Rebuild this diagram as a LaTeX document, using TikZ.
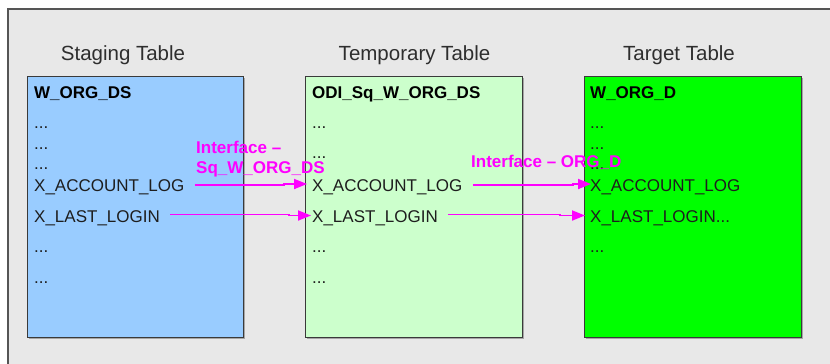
\documentclass[tikz,border=0pt]{standalone}
\usepackage{fontspec}
\setmainfont{Liberation Sans}
\usetikzlibrary{arrows.meta,calc}
\definecolor{bgcol}{HTML}{E8E8E8}
\definecolor{framecol}{HTML}{555555}
\definecolor{stagecol}{HTML}{99CCFF}
\definecolor{tempcol}{HTML}{CCFFCC}
\definecolor{targcol}{HTML}{00FF00}
\definecolor{boxline}{HTML}{3A3A3A}
\definecolor{txtcol}{HTML}{1E1E1E}
\definecolor{titcol}{HTML}{2E2E2E}
\definecolor{ifcol}{HTML}{FF00FF}
\tikzset{
  tbl/.style={draw=boxline, line width=1pt, rectangle, anchor=north west,
    minimum width=216pt, minimum height=261pt, inner sep=0pt},
  shad/.style={fill=black!35, draw=none},
  ttl/.style={anchor=base, text=titcol, font=\fontsize{20.5}{24}\selectfont, inner sep=0pt},
  hdr/.style={anchor=base west, text=black, font=\fontsize{17}{20}\selectfont\bfseries, inner sep=0pt},
  fld/.style={anchor=base west, text=txtcol, font=\fontsize{17}{20}\selectfont, inner sep=0pt},
  ifl/.style={anchor=base west, text=ifcol, font=\fontsize{17}{20}\selectfont\bfseries, inner sep=0pt},
  arr/.style={draw=ifcol, line width=1.8pt, -{Triangle[length=13pt,width=10pt]}},
}
\begin{document}
\begin{tikzpicture}[x=1pt,y=-1pt]
\useasboundingbox (0,0) rectangle (830,364);
% outer frame
\fill[white] (0,0) rectangle (830,364);
\fill[black!25] (9,10) rectangle (840,380);
\filldraw[fill=bgcol, draw=framecol, line width=1.3pt] (8,9) rectangle (845,385);
% box shadows
\fill[shad] (28.5,77.5) rectangle (245,339);
\fill[shad] (306.5,77.5) rectangle (524,339);
\fill[shad] (585.5,77.5) rectangle (803,339);
% tables
\node[tbl, fill=stagecol] (stg) at (27,76) {};
\node[tbl, fill=tempcol, minimum width=217pt] (tmp) at (305,76) {};
\node[tbl, fill=targcol, minimum width=217pt] (tgt) at (584,76) {};
% titles
\node[ttl] (tstg) at (123,60) {Staging Table};
\node[ttl] (ttmp) at (414.5,60) {Temporary Table};
\node[ttl] (ttgt) at (679,60) {Target Table};
% staging fields
\node[hdr] (sh) at (34,98) {W\_ORG\_DS};
\node[fld] (sd1) at (34,128) {...};
\node[fld] (sd2) at (34,149) {...};
\node[fld] (sd3) at (34,169) {...};
\node[fld] (sal) at (34,191) {X\_ACCOUNT\_LOG};
\node[fld] (sll) at (34,222) {X\_LAST\_LOGIN};
\node[fld] (sd4) at (34,252) {...};
\node[fld] (sd5) at (34,283) {...};
% temporary fields
\node[hdr] (mh) at (312,98) {ODI\_Sq\_W\_ORG\_DS};
\node[fld] (md1) at (312,128) {...};
\node[fld] (md2) at (312,158) {...};
\node[fld] (mal) at (312,191) {X\_ACCOUNT\_LOG};
\node[fld] (mll) at (312,222) {X\_LAST\_LOGIN};
\node[fld] (md4) at (312,252) {...};
\node[fld] (md5) at (312,283) {...};
% target fields
\node[hdr] (gh) at (590,98) {W\_ORG\_D};
\node[fld] (gd1) at (590,128) {...};
\node[fld] (gd2) at (590,149) {...};
\node[fld] (gd3) at (590,169) {...};
\node[fld] (gal) at (590,191) {X\_ACCOUNT\_LOG};
\node[fld] (gll) at (590,222) {X\_LAST\_LOGIN...};
\node[fld] (gd4) at (590,252) {...};
% interface labels
\node[ifl] (if1a) at (196,153) {Interface –};
\node[ifl] (if1b) at (196,173) {Sq\_W\_ORG\_DS};
\node[ifl] (if2) at (471,167) {Interface – ORG\_D};
% connectors
\draw[arr] ([shift={(10pt,6pt)}]sal.base east) -- ++(89,0) -- ++(0,-1) -- ([shift={(-5pt,7pt)}]mal.base west);
\draw[arr] ([shift={(10pt,7.5pt)}]sll.base east) -- ++(119,0) -- ++(0,1) -- ([shift={(-1pt,6.5pt)}]mll.base west);
\draw[arr] ([shift={(10pt,6pt)}]mal.base east) -- ++(100,0) -- ++(0,-1) -- ([shift={(1pt,7pt)}]gal.base west);
\draw[arr] ([shift={(10pt,7.5pt)}]mll.base east) -- ++(112,0) -- ++(0,1) -- ([shift={(-5pt,6.5pt)}]gll.base west);
\end{tikzpicture}
\end{document}
